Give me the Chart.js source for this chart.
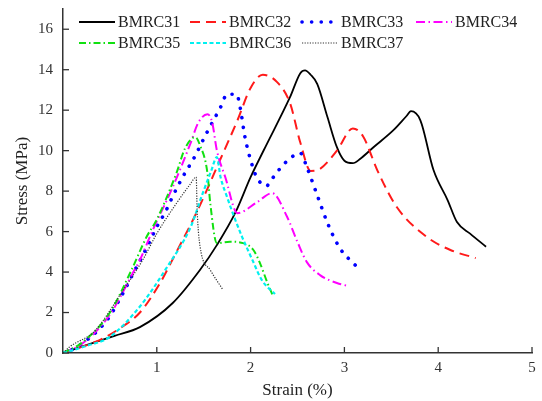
<!DOCTYPE html>
<html>
<head>
<meta charset="utf-8">
<script src="https://cdn.jsdelivr.net/npm/chart.js@4/dist/chart.umd.min.js"></script>
<style>
  html, body { margin: 0; padding: 0; background: #fff; }
  #wrap { width: 542px; height: 401px; position: relative; }
</style>
</head>
<body>
<div id="wrap"><canvas id="c" width="542" height="401"></canvas></div>
<script>
// ---- data ----
const seriesNames = ['BMRC31', 'BMRC32', 'BMRC33', 'BMRC34', 'BMRC35', 'BMRC36', 'BMRC37'];

const strain31 = [0, 0.29, 0.55, 0.82, 1.17, 1.46, 1.64, 1.84, 2.0, 2.14, 2.42, 2.53, 2.58, 2.64, 2.71, 2.82, 2.92, 3.0, 3.09, 3.17, 3.31, 3.52, 3.66, 3.71, 3.81, 3.95, 4.10, 4.2, 4.34, 4.51];
const stress31 = [0, 0.45, 0.85, 1.28, 2.47, 4.1, 5.33, 6.96, 8.69, 10.02, 12.64, 13.83, 13.97, 13.75, 13.3, 11.65, 10.17, 9.5, 9.38, 9.6, 10.17, 11.0, 11.7, 11.95, 11.5, 9.04, 7.56, 6.47, 5.9, 5.25];

const strain32 = [0, 0.39, 0.6, 0.82, 1.04, 1.21, 1.43, 1.68, 1.86, 2.0, 2.13, 2.28, 2.42, 2.53, 2.64, 2.74, 2.92, 3.09, 3.2, 3.35, 3.56, 3.88, 4.13, 4.40];
const stress32 = [0, 0.64, 1.2, 2.0, 3.5, 5.0, 7.0, 9.6, 11.5, 13.1, 13.75, 13.4, 12.35, 10.4, 9.0, 9.1, 10.0, 11.1, 10.7, 9.04, 7.2, 5.73, 5.09, 4.69];

const strain33 = [0, 0.15, 0.47, 0.64, 0.75, 0.88, 1.01, 1.09, 1.16, 1.23, 1.30, 1.39, 1.53, 1.68, 1.75, 1.85, 1.89, 1.94, 2.02, 2.07, 2.17, 2.21, 2.31, 2.41, 2.53, 2.6, 2.71, 2.82, 2.95, 3.05, 3.16];
const stress33 = [0, 0.3, 1.63, 2.96, 3.95, 5.09, 6.32, 6.96, 7.65, 8.3, 8.89, 9.58, 10.86, 12.15, 12.79, 12.79, 12.1, 10.67, 9.23, 8.64, 8.25, 8.49, 9.09, 9.58, 9.88, 9.18, 7.8, 6.42, 5.19, 4.64, 4.15];

const strain34 = [0, 0.2, 0.5, 0.75, 0.82, 0.95, 1.17, 1.36, 1.44, 1.54, 1.59, 1.64, 1.73, 1.86, 2.07, 2.23, 2.39, 2.5, 2.6, 2.74, 2.92, 3.04];
const stress34 = [0, 0.45, 1.9, 4.0, 4.6, 6.0, 8.2, 10.37, 11.36, 11.8, 11.41, 10.02, 8.69, 6.91, 7.46, 7.9, 6.72, 5.48, 4.49, 3.85, 3.46, 3.31];

const strain35 = [0, 0.2, 0.5, 0.73, 0.89, 1.0, 1.21, 1.30, 1.41, 1.46, 1.54, 1.57, 1.64, 1.78, 1.92, 2.03, 2.1, 2.18, 2.24];
const stress35 = [0, 0.5, 2.0, 4.1, 5.73, 6.6, 8.9, 10.1, 10.67, 10.27, 8.89, 7.4, 5.43, 5.5, 5.43, 5.09, 4.44, 3.46, 2.8];

const strain36 = [0, 0.25, 0.5, 0.82, 1.11, 1.36, 1.49, 1.58, 1.64, 1.68, 1.75, 1.81, 1.91, 2.02, 2.12, 2.26];
const stress36 = [0, 0.35, 0.8, 2.3, 4.25, 6.22, 7.9, 9.0, 9.68, 8.69, 7.7, 6.91, 5.73, 4.59, 3.6, 2.91];

const strain37 = [0, 0.07, 0.34, 0.64, 0.85, 1.0, 1.21, 1.35, 1.42, 1.43, 1.46, 1.57, 1.70];
const stress37 = [0, 0.3, 1.1, 3.1, 4.6, 5.9, 7.4, 8.3, 8.69, 7.1, 5.3, 4.1, 3.16];

const xTickValues = [1, 2, 3, 4, 5];
const yTickValues = [0, 2, 4, 6, 8, 10, 12, 14, 16];

// ---- styles ----
const FONT = '"Liberation Serif", "Times New Roman", serif';
const styles = [
  { color: '#000000', width: 1.8, dash: [], cap: 'butt' },
  { color: '#ff1a1a', width: 2, dash: [10, 6], cap: 'butt' },
  { color: '#0000ff', width: 3.6, dash: [0.1, 9.5], cap: 'round' },
  { color: '#ff00ff', width: 2, dash: [9, 3.5, 1.5, 3.5], cap: 'butt' },
  { color: '#11e011', width: 2, dash: [7, 3, 1.5, 3], cap: 'butt' },
  { color: '#00f0f0', width: 2.2, dash: [4, 2.5], cap: 'butt' },
  { color: '#333333', width: 1.2, dash: [1.2, 1.4], cap: 'butt' }
];

const xs = [strain31, strain32, strain33, strain34, strain35, strain36, strain37];
const ys = [stress31, stress32, stress33, stress34, stress35, stress36, stress37];

const datasets = seriesNames.map((name, i) => ({
  label: name,
  data: xs[i].map((x, k) => ({ x: x, y: ys[i][k] })),
  borderColor: styles[i].color,
  borderWidth: styles[i].width,
  borderDash: styles[i].dash,
  borderCapStyle: styles[i].cap,
  pointRadius: 0,
  fill: false,
  cubicInterpolationMode: 'monotone',
  order: seriesNames.length - i
}));

// inward tick marks + custom legend
const decorPlugin = {
  id: 'decor',
  afterDraw(chart) {
    const ctx = chart.ctx;
    const xs_ = chart.scales.x, ys_ = chart.scales.y;
    const area = chart.chartArea;
    ctx.save();
    ctx.strokeStyle = '#333';
    ctx.lineWidth = 1.3;
    ctx.setLineDash([]);
    xTickValues.forEach(v => {
      const px = xs_.getPixelForValue(v);
      ctx.beginPath();
      ctx.moveTo(px, area.bottom);
      ctx.lineTo(px, area.bottom - 6);
      ctx.stroke();
    });
    yTickValues.forEach(v => {
      const py = ys_.getPixelForValue(v);
      ctx.beginPath();
      ctx.moveTo(area.left, py);
      ctx.lineTo(area.left + 6, py);
      ctx.stroke();
    });
    // legend
    const cols = [79, 190, 302, 416];
    const rows = [22, 43];
    ctx.font = '16px ' + FONT;
    ctx.textBaseline = 'middle';
    ctx.textAlign = 'left';
    chart.data.datasets.forEach((ds, i) => {
      const col = cols[i % 4];
      const row = rows[Math.floor(i / 4)];
      ctx.save();
      ctx.strokeStyle = ds.borderColor;
      ctx.lineWidth = ds.borderWidth;
      ctx.lineCap = ds.borderCapStyle;
      ctx.setLineDash(ds.borderDash);
      ctx.beginPath();
      ctx.moveTo(col, row);
      ctx.lineTo(col + 36, row);
      ctx.stroke();
      ctx.restore();
      ctx.fillStyle = '#222';
      ctx.fillText(ds.label, col + 39, row + 1);
    });
    ctx.restore();
  }
};

new Chart(document.getElementById('c'), {
  type: 'line',
  data: { datasets: datasets },
  options: {
    responsive: false,
    animation: false,
    devicePixelRatio: 1,
    layout: { padding: { top: 9, right: 10, left: 0, bottom: 0 } },
    plugins: { legend: { display: false }, tooltip: { enabled: false } },
    scales: {
      x: {
        type: 'linear',
        min: 0, max: 5,
        afterBuildTicks: s => { s.ticks = xTickValues.map(v => ({ value: v })); },
        ticks: { padding: 6, color: '#333', font: { family: FONT, size: 15 } },
        grid: { display: false, drawTicks: false },
        border: { display: true, color: '#333', width: 1.5 },
        title: { display: true, text: 'Strain (%)', color: '#222', font: { family: FONT, size: 17 }, padding: { top: 0, bottom: 0 } },
        afterFit: s => { s.height = 48; s.paddingLeft = 0; s.paddingRight = 0; }
      },
      y: {
        type: 'linear',
        min: 0, max: 17,
        afterBuildTicks: s => { s.ticks = yTickValues.map(v => ({ value: v })); },
        ticks: { padding: 10, color: '#333', font: { family: FONT, size: 15 } },
        grid: { display: false, drawTicks: false },
        border: { display: true, color: '#333', width: 1.5 },
        title: { display: true, text: 'Stress (MPa)', color: '#222', font: { family: FONT, size: 17 }, padding: { top: 12, bottom: 0 } },
        afterFit: s => { s.width = 63; s.paddingTop = 0; s.paddingBottom = 0; }
      }
    }
  },
  plugins: [decorPlugin]
});
</script>
</body>
</html>
